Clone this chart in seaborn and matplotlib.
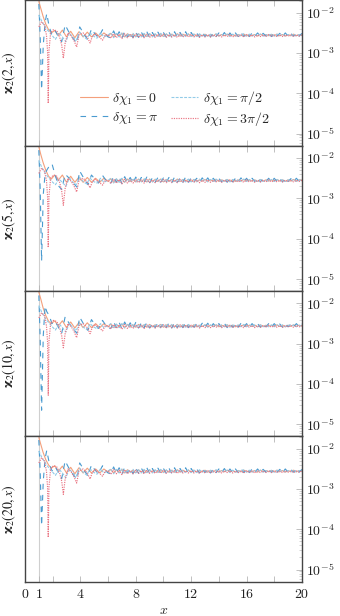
import numpy as np
import pandas as pd
import matplotlib
matplotlib.use("Agg")
import matplotlib.pyplot as plt
import seaborn as sns
from matplotlib.ticker import FixedLocator, FuncFormatter, LogLocator, NullFormatter

# ---------------- data (log10 of the plotted quantity) ----------------
PANEL_K = [2, 5, 10, 20]
SERIES_LABELS = [r"$\delta\chi_1 = 0$", r"$\delta\chi_1 = \pi$",
                 r"$\delta\chi_1 = \pi/2$", r"$\delta\chi_1 = 3\pi/2$"]
X_TICKS = [0, 1, 2, 4, 6, 8, 10, 12, 14, 16, 18, 20]
X_LABELED = [0, 1, 4, 8, 12, 16, 20]
Y_DECADES = [-5, -4, -3, -2]

# head x-grids (x from 1 to 6) for each series
ZX = [1.0, 1.15, 1.3, 1.5, 1.7, 1.9, 2.15, 2.4, 2.7, 3.0, 3.3, 3.6, 3.9, 4.2,
      4.5, 4.8, 5.1, 5.4, 5.7, 6.0]
PX = [1.0, 1.1, 1.2, 1.32, 1.45, 1.57, 1.75, 1.95, 2.2, 2.45, 2.65, 2.9, 3.2,
      3.5, 3.75, 3.95, 4.25, 4.55, 4.8, 5.0, 5.3, 5.6, 5.85, 6.0]
HX = [1.0, 1.2, 1.4, 1.6, 1.8, 2.0, 2.2, 2.45, 2.7, 2.95, 3.2, 3.45, 3.7, 3.95,
      4.2, 4.45, 4.7, 4.95, 5.2, 5.45, 5.7, 6.0]
RX = [1.0, 1.2, 1.4, 1.55, 1.63, 1.68, 1.73, 1.85, 2.05, 2.3, 2.5, 2.65, 2.77,
      2.9, 3.1, 3.35, 3.55, 3.73, 3.9, 4.2, 4.5, 4.7, 4.85, 5.05, 5.3, 5.6,
      5.8, 6.0]

# panel 1: varkappa_2(2, x)
Z1 = [-1.72, -1.9, -2.08, -2.28, -2.42, -2.5, -2.44, -2.57, -2.43, -2.6, -2.46,
      -2.62, -2.47, -2.6, -2.48, -2.6, -2.5, -2.6, -2.5, -2.58]
P1 = [-1.78, -2.6, -3.91, -2.8, -2.25, -2.02, -2.35, -2.55, -2.45, -2.62, -2.72,
      -2.3, -2.5, -2.65, -2.75, -2.35, -2.52, -2.68, -2.4, -2.5, -2.62, -2.42,
      -2.55, -2.6]
H1 = [-2.05, -2.2, -2.32, -2.42, -2.5, -2.58, -2.66, -2.5, -2.6, -2.72, -2.5,
      -2.6, -2.68, -2.48, -2.58, -2.65, -2.5, -2.58, -2.63, -2.5, -2.6, -2.55]
R1 = [-2.35, -2.22, -2.3, -2.55, -2.95, -4.25, -2.95, -2.5, -2.42, -2.45, -2.6,
      -2.8, -3.13, -2.75, -2.5, -2.58, -2.7, -2.85, -2.55, -2.5, -2.6, -2.75,
      -2.6, -2.52, -2.58, -2.68, -2.55, -2.55]

# panel 2: varkappa_2(5, x)
Z2 = [-1.72, -1.92, -2.1, -2.3, -2.45, -2.52, -2.42, -2.55, -2.42, -2.6, -2.45,
      -2.6, -2.47, -2.6, -2.48, -2.6, -2.5, -2.6, -2.5, -2.58]
P2 = [-1.8, -2.8, -4.55, -2.9, -2.4, -2.3, -2.2, -2.14, -2.45, -2.7, -2.78,
      -2.4, -2.5, -2.62, -2.72, -2.32, -2.5, -2.66, -2.42, -2.5, -2.62, -2.43,
      -2.55, -2.6]
H2 = [-2.05, -2.22, -2.34, -2.44, -2.52, -2.6, -2.66, -2.52, -2.6, -2.7, -2.5,
      -2.6, -2.66, -2.48, -2.58, -2.64, -2.5, -2.58, -2.62, -2.5, -2.6, -2.55]
R2 = [-2.38, -2.25, -2.32, -2.55, -2.95, -4.22, -2.95, -2.5, -2.42, -2.45, -2.6,
      -2.82, -3.17, -2.75, -2.5, -2.58, -2.7, -2.84, -2.55, -2.5, -2.6, -2.74,
      -2.6, -2.52, -2.58, -2.67, -2.55, -2.55]

# panel 3: varkappa_2(10, x)
Z3 = [-1.72, -1.9, -2.1, -2.3, -2.44, -2.5, -2.43, -2.56, -2.43, -2.6, -2.46,
      -2.61, -2.47, -2.6, -2.48, -2.6, -2.5, -2.6, -2.5, -2.58]
P3 = [-1.8, -2.9, -4.65, -2.8, -2.06, -2.2, -2.3, -2.5, -2.45, -2.62, -2.74,
      -2.33, -2.5, -2.64, -2.74, -2.34, -2.52, -2.67, -2.4, -2.5, -2.62, -2.42,
      -2.55, -2.6]
H3 = [-2.05, -2.21, -2.33, -2.43, -2.51, -2.59, -2.66, -2.5, -2.6, -2.71, -2.5,
      -2.6, -2.67, -2.48, -2.58, -2.65, -2.5, -2.58, -2.63, -2.5, -2.6, -2.55]
R3 = [-2.36, -2.23, -2.3, -2.55, -2.95, -4.28, -2.95, -2.5, -2.42, -2.45, -2.6,
      -2.8, -3.1, -2.75, -2.5, -2.58, -2.7, -2.85, -2.55, -2.5, -2.6, -2.75,
      -2.6, -2.52, -2.58, -2.68, -2.55, -2.55]

# panel 4: varkappa_2(20, x)
Z4 = [-1.72, -1.9, -2.08, -2.27, -2.4, -2.48, -2.42, -2.56, -2.43, -2.6, -2.46,
      -2.62, -2.47, -2.6, -2.48, -2.6, -2.5, -2.6, -2.5, -2.58]
P4 = [-1.78, -2.6, -3.91, -2.8, -2.25, -2.04, -2.35, -2.55, -2.45, -2.62, -2.74,
      -2.3, -2.5, -2.65, -2.75, -2.35, -2.52, -2.68, -2.4, -2.5, -2.62, -2.42,
      -2.55, -2.6]
H4 = [-2.05, -2.2, -2.32, -2.42, -2.5, -2.58, -2.66, -2.5, -2.6, -2.72, -2.5,
      -2.6, -2.68, -2.48, -2.58, -2.65, -2.5, -2.58, -2.63, -2.5, -2.6, -2.55]
R4 = [-2.35, -2.22, -2.3, -2.55, -2.95, -4.2, -2.95, -2.5, -2.42, -2.45, -2.6,
      -2.8, -3.13, -2.75, -2.5, -2.58, -2.7, -2.85, -2.55, -2.5, -2.6, -2.75,
      -2.6, -2.52, -2.58, -2.68, -2.55, -2.55]

# tail (x from 6.2 to 20), common to all panels
TX = [6.2, 6.4, 6.6, 6.8, 7.0, 7.2, 7.4, 7.6, 7.8, 8.0,
      8.2, 8.4, 8.6, 8.8, 9.0, 9.2, 9.4, 9.6, 9.8, 10.0,
      10.2, 10.4, 10.6, 10.8, 11.0, 11.2, 11.4, 11.6, 11.8, 12.0,
      12.2, 12.4, 12.6, 12.8, 13.0, 13.2, 13.4, 13.6, 13.8, 14.0,
      14.2, 14.4, 14.6, 14.8, 15.0, 15.2, 15.4, 15.6, 15.8, 16.0,
      16.2, 16.4, 16.6, 16.8, 17.0, 17.2, 17.4, 17.6, 17.8, 18.0,
      18.2, 18.4, 18.6, 18.8, 19.0, 19.2, 19.4, 19.6, 19.8, 20.0]
TZ = [-2.51, -2.60, -2.52, -2.59, -2.51, -2.60, -2.52, -2.58, -2.53, -2.59,
      -2.52, -2.58, -2.53, -2.59, -2.52, -2.58, -2.53, -2.58, -2.52, -2.59,
      -2.53, -2.58, -2.53, -2.58, -2.52, -2.58, -2.53, -2.57, -2.53, -2.58,
      -2.53, -2.58, -2.54, -2.57, -2.53, -2.58, -2.54, -2.57, -2.53, -2.58,
      -2.54, -2.57, -2.53, -2.57, -2.54, -2.58, -2.54, -2.57, -2.53, -2.57,
      -2.54, -2.57, -2.54, -2.58, -2.53, -2.57, -2.54, -2.57, -2.54, -2.57,
      -2.53, -2.57, -2.54, -2.58, -2.54, -2.57, -2.53, -2.57, -2.54, -2.56]
TP = [-2.62, -2.45, -2.60, -2.47, -2.63, -2.46, -2.60, -2.48, -2.62, -2.47,
      -2.61, -2.48, -2.60, -2.47, -2.61, -2.49, -2.60, -2.48, -2.60, -2.49,
      -2.60, -2.48, -2.61, -2.47, -2.60, -2.49, -2.60, -2.47, -2.60, -2.49,
      -2.59, -2.50, -2.60, -2.49, -2.59, -2.49, -2.60, -2.50, -2.59, -2.50,
      -2.59, -2.49, -2.60, -2.50, -2.59, -2.50, -2.59, -2.49, -2.59, -2.50,
      -2.59, -2.50, -2.58, -2.50, -2.59, -2.51, -2.58, -2.50, -2.59, -2.50,
      -2.58, -2.51, -2.59, -2.50, -2.58, -2.51, -2.58, -2.50, -2.58, -2.51]
TH = [-2.50, -2.62, -2.51, -2.60, -2.50, -2.61, -2.52, -2.60, -2.51, -2.60,
      -2.52, -2.60, -2.51, -2.59, -2.52, -2.60, -2.52, -2.59, -2.51, -2.59,
      -2.52, -2.59, -2.52, -2.60, -2.52, -2.59, -2.53, -2.59, -2.52, -2.59,
      -2.53, -2.59, -2.52, -2.58, -2.53, -2.59, -2.53, -2.58, -2.52, -2.58,
      -2.53, -2.58, -2.53, -2.59, -2.53, -2.58, -2.53, -2.58, -2.52, -2.58,
      -2.53, -2.58, -2.53, -2.58, -2.53, -2.58, -2.54, -2.58, -2.53, -2.58,
      -2.53, -2.57, -2.53, -2.58, -2.54, -2.57, -2.53, -2.58, -2.54, -2.57]
TR = [-2.63, -2.52, -2.62, -2.53, -2.64, -2.52, -2.62, -2.54, -2.62, -2.53,
      -2.61, -2.54, -2.62, -2.53, -2.61, -2.54, -2.61, -2.54, -2.60, -2.53,
      -2.61, -2.54, -2.60, -2.54, -2.61, -2.53, -2.60, -2.55, -2.60, -2.54,
      -2.60, -2.54, -2.61, -2.55, -2.60, -2.54, -2.60, -2.55, -2.59, -2.54,
      -2.60, -2.55, -2.59, -2.54, -2.60, -2.55, -2.59, -2.55, -2.60, -2.54,
      -2.59, -2.55, -2.60, -2.55, -2.59, -2.55, -2.59, -2.54, -2.59, -2.55,
      -2.59, -2.55, -2.59, -2.55, -2.58, -2.55, -2.59, -2.55, -2.58, -2.55]

HEADS = {
    2: (Z1, P1, H1, R1),
    5: (Z2, P2, H2, R2),
    10: (Z3, P3, H3, R3),
    20: (Z4, P4, H4, R4),
}
HEAD_X = (ZX, PX, HX, RX)
TAILS = (TZ, TP, TH, TR)

# ---------------- styles ----------------
COLORS = ["#f4a07c", "#4a9bd0", "#92cbe8", "#ea7482"]
STYLES = ["-", (0, (5.0, 5.0)), (0, (2.6, 1.2)), (0, (1.0, 1.0))]
WIDTHS = [0.8, 0.8, 0.8, 0.85]

sns.set_theme(style="white")
plt.rcParams.update({
    "mathtext.fontset": "cm",
    "font.family": ["DejaVu Serif"],
    "axes.edgecolor": "#444444",
    "axes.linewidth": 1.0,
})

fig, axes = plt.subplots(4, 1, sharex=True, figsize=(3.4, 6.16), dpi=100,
                         gridspec_kw=dict(hspace=0.0))
fig.subplots_adjust(left=0.0735, right=0.888, top=0.9995, bottom=0.0557)

for ax, k in zip(axes, PANEL_K):
    ax.axvline(1, color="#cfcfcf", lw=0.8, zorder=0)
    heads = HEADS[k]
    for j in range(4):
        xs = list(HEAD_X[j]) + TX
        ys = np.power(10.0, np.array(list(heads[j]) + TAILS[j]))
        kw = {}
        if k == PANEL_K[0]:
            kw["label"] = SERIES_LABELS[j]
        sns.lineplot(x=xs, y=ys, ax=ax, color=COLORS[j], linestyle=STYLES[j],
                     linewidth=WIDTHS[j], estimator=None, sort=False, **kw)
    ax.set_yscale("log")
    ax.set_ylim(10 ** -5.3, 10 ** -1.69)
    ax.set_xlim(0, 20)
    ax.xaxis.set_major_locator(FixedLocator(X_TICKS))
    ax.xaxis.set_major_formatter(FuncFormatter(
        lambda v, p: (r"$%d$" % round(v)) if round(v) in X_LABELED else ""))
    ax.yaxis.set_major_locator(FixedLocator([10.0 ** d for d in Y_DECADES]))
    ax.yaxis.set_major_formatter(FuncFormatter(
        lambda v, p: r"$10^{%d}$" % round(np.log10(v))))
    ax.yaxis.set_minor_locator(LogLocator(base=10, subs=np.arange(2, 10)))
    ax.yaxis.set_minor_formatter(NullFormatter())
    ax.yaxis.tick_right()
    ax.tick_params(axis="x", which="major", direction="in", top=True,
                   bottom=True, length=4, width=0.6, color="#b5b5b5",
                   labelsize=10, labelcolor="#222222", pad=4)
    ax.tick_params(axis="y", which="major", direction="in", left=False,
                   right=True, length=4, width=0.6, color="#b5b5b5",
                   labelsize=10, labelcolor="#222222", pad=3)
    ax.tick_params(axis="y", which="minor", direction="in", left=False,
                   right=True, length=2, width=0.5, color="#c0c0c0")
    ax.yaxis.set_label_position("left")
    ax.set_ylabel(r"$\boldsymbol{\varkappa}_2(%d,x)$" % k, fontsize=10,
                  color="#222222", math_fontfamily="stix")
    ax.yaxis.set_label_coords(-0.025, 0.5)
    ax.set_xlabel("")
    for s in ax.spines.values():
        s.set_color("#444444")
        s.set_linewidth(1.0)

for ax in axes:
    if ax.get_legend() is not None:
        ax.get_legend().remove()

handles, labels = axes[0].get_legend_handles_labels()
axes[0].legend(handles, labels, ncol=2, loc="center",
               bbox_to_anchor=(0.54, 0.255), frameon=False, fontsize=10,
               handlelength=2.0, handletextpad=0.3, columnspacing=0.9,
               labelspacing=0.2, borderaxespad=0.0)

axes[-1].set_xlabel(r"$x$", fontsize=10, labelpad=1)

fig.savefig("out.png", dpi=100)
